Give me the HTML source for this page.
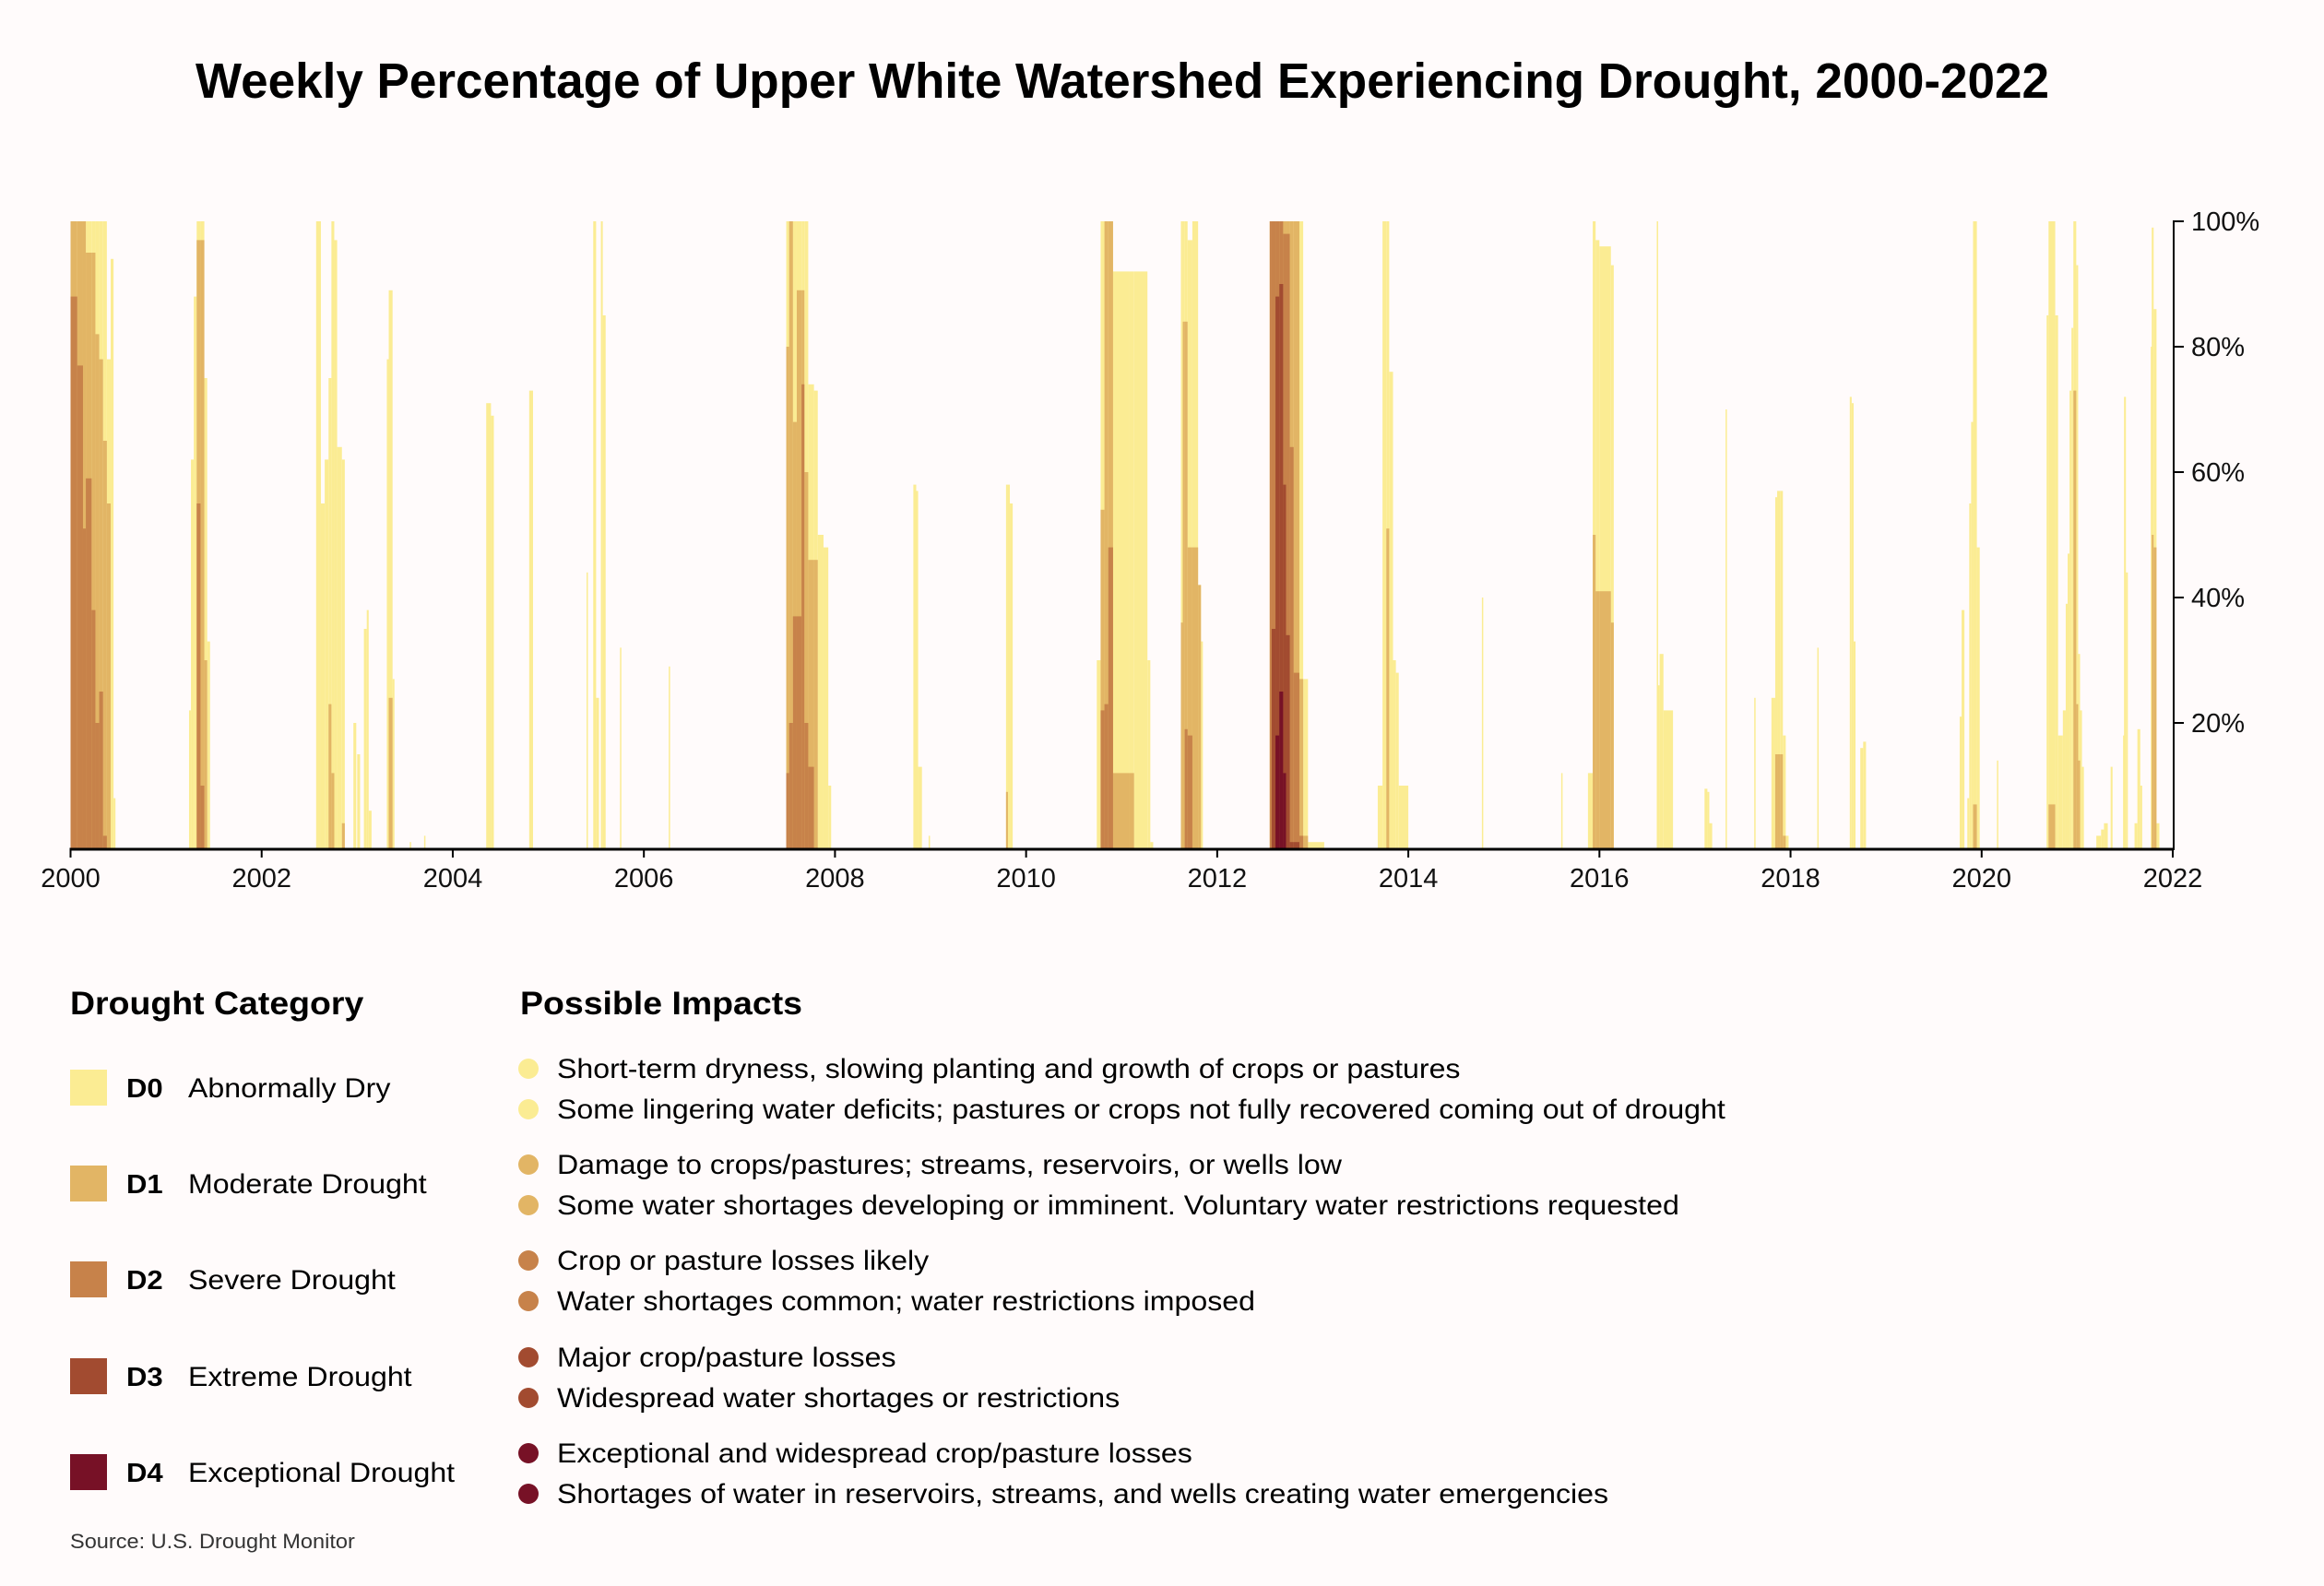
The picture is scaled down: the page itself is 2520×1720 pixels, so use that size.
<!DOCTYPE html>
<html><head><meta charset="utf-8">
<style>
html,body{margin:0;padding:0;background:#fffbfb;}
svg{display:block;font-family:"Liberation Sans",Arial,sans-serif;}
</style></head>
<body>
<svg id="chart" width="2520" height="1720" viewBox="0 0 2520 1720" xmlns="http://www.w3.org/2000/svg">
<rect width="2520" height="1720" fill="#fffbfb"/>
<text x="1217" y="106" text-anchor="middle" font-size="54" font-weight="bold" fill="#000" textLength="2010" lengthAdjust="spacingAndGlyphs">Weekly Percentage of Upper White Watershed Experiencing Drought, 2000-2022</text>
<g id="bars"></g>
<g id="axes"></g>

<text class="wide" x="76" y="1100" font-size="35" font-weight="bold">Drought Category</text>
<text class="wide" x="564" y="1100" font-size="35" font-weight="bold">Possible Impacts</text>
<g id="legend"></g>
<text class="wide" x="76" y="1679" font-size="22" fill="#333">Source: U.S. Drought Monitor</text>
</svg>
<script>
// ---- data: weekly drought episodes (start year, end year, cumulative % in D0+, D1+, D2+, D3+, D4)
const segStart = [2000.00,2000.07,2000.13,2000.16,2000.22,2000.26,2000.30,2000.34,2000.38,2000.42,2000.45,
 2001.24,2001.26,2001.29,2001.32,2001.36,2001.40,2001.43,
 2002.57,2002.62,2002.66,2002.70,2002.73,2002.76,2002.79,2002.84,2002.96,2003.00,2003.07,2003.10,2003.12,2003.31,2003.33,2003.37,2003.55,2003.70,
 2004.35,2004.40,2004.80,2005.40,2005.47,2005.50,2005.55,2005.57,2005.75,2006.26,
 2007.49,2007.52,2007.56,2007.60,2007.65,2007.68,2007.72,2007.78,2007.82,2007.88,2007.93,
 2008.82,2008.85,2008.87,2008.98,2009.79,2009.81,2009.83,
 2010.74,2010.78,2010.82,2010.86,2010.91,2011.08,2011.13,2011.27,2011.30,
 2011.62,2011.64,2011.66,2011.69,2011.74,2011.80,2011.83,
 2012.55,2012.57,2012.61,2012.65,2012.69,2012.72,2012.76,2012.80,2012.86,2012.90,2012.95,
 2013.68,2013.73,2013.77,2013.80,2013.84,2013.87,2013.90,2014.77,2015.60,2015.88,2015.93,2015.96,2016.00,2016.12,
 2016.60,2016.61,2016.63,2016.67,2017.10,2017.13,2017.15,2017.32,2017.62,2017.80,2017.84,2017.86,2017.89,2017.92,2017.95,2018.28,
 2018.62,2018.64,2018.66,2018.73,2018.76,2019.77,2019.79,2019.85,2019.87,2019.89,2019.91,2019.95,2020.16,
 2020.68,2020.70,2020.77,2020.80,2020.85,2020.88,2020.90,2020.92,2020.94,2020.96,2020.99,2021.01,2021.03,2021.05,
 2021.20,2021.25,2021.28,2021.35,2021.48,2021.49,2021.51,2021.60,2021.63,2021.66,2021.77,2021.78,2021.80,2021.83];
const segEnd = [2000.07,2000.13,2000.16,2000.22,2000.26,2000.30,2000.34,2000.38,2000.42,2000.45,2000.47,
 2001.26,2001.29,2001.32,2001.36,2001.40,2001.43,2001.46,
 2002.62,2002.66,2002.70,2002.73,2002.76,2002.79,2002.84,2002.87,2002.99,2003.03,2003.10,2003.12,2003.15,2003.33,2003.37,2003.39,2003.56,2003.71,
 2004.40,2004.43,2004.84,2005.41,2005.50,2005.53,2005.57,2005.60,2005.76,2006.27,
 2007.52,2007.56,2007.60,2007.65,2007.68,2007.72,2007.78,2007.82,2007.88,2007.93,2007.96,
 2008.85,2008.87,2008.91,2008.99,2009.81,2009.83,2009.86,
 2010.78,2010.82,2010.86,2010.91,2011.08,2011.13,2011.27,2011.30,2011.33,
 2011.64,2011.66,2011.69,2011.74,2011.80,2011.83,2011.85,
 2012.57,2012.61,2012.65,2012.69,2012.72,2012.76,2012.80,2012.86,2012.90,2012.95,2013.12,
 2013.73,2013.77,2013.80,2013.84,2013.87,2013.90,2014.00,2014.78,2015.61,2015.93,2015.96,2016.00,2016.12,2016.15,
 2016.61,2016.63,2016.67,2016.77,2017.13,2017.15,2017.18,2017.33,2017.63,2017.84,2017.86,2017.89,2017.92,2017.95,2017.98,2018.29,
 2018.64,2018.66,2018.68,2018.76,2018.79,2019.79,2019.82,2019.87,2019.89,2019.91,2019.95,2019.98,2020.17,
 2020.70,2020.77,2020.80,2020.85,2020.88,2020.90,2020.92,2020.94,2020.96,2020.99,2021.01,2021.03,2021.05,2021.07,
 2021.25,2021.28,2021.32,2021.37,2021.49,2021.51,2021.53,2021.63,2021.66,2021.68,2021.78,2021.80,2021.83,2021.86];
const d0 = [100,100,100,100,100,100,100,100,78,94,8,
 22,62,88,100,100,75,33,
 100,55,62,75,100,97,64,62,20,15,35,38,6,78,89,27,1,2,
 71,69,73,44,100,24,100,85,32,29,
 100,100,100,100,100,100,74,73,50,48,10,
 58,57,13,2,58,58,55,
 30,100,100,100,92,92,92,30,1,
 100,100,100,97,100,42,33,
 100,100,100,100,100,100,100,100,100,27,1,
 10,100,100,76,30,28,10,40,12,12,100,97,96,93,
 100,26,31,22,9.5,9,4,70,24,24,56,57,57,18,2,32,
 72,71,33,16,17,21,38,8,55,68,100,48,14,
 85,100,85,18,22,39,47,73,83,100,93,31,22,13,
 2,3,4,13,18,72,44,4,19,10,80,99,86,4];
const d1 = [100,100,100,95,95,82,78,65,55,0,0,
 0,0,0,97,97,30,0,
 0,0,0,23,12,0,0,4,0,0,0,0,0,0,24,0,0,0,
 0,0,0,0,0,0,0,0,0,0,
 80,100,68,89,89,60,46,46,0,0,0,
 0,0,0,0,9,0,0,
 0,54,100,100,12,12,0,0,0,
 36,84,84,48,48,42,0,
 100,100,100,100,100,100,100,100,27,2,0,
 0,0,51,0,0,0,0,0,0,0,50,41,41,36,
 0,0,0,0,0,0,0,0,0,0,15,15,15,2,0,0,
 0,0,0,0,0,0,0,0,0,0,7,0,0,
 0,7,0,0,0,0,0,0,0,73,23,14,0,0,
 0,0,0,0,0,0,0,0,0,0,0,50,48,0];
const d2 = [88,77,51,59,38,20,25,2,0,0,0,
 0,0,0,55,10,0,0,
 0,0,0,0,0,0,0,0,0,0,0,0,0,0,0,0,0,0,
 0,0,0,0,0,0,0,0,0,0,
 12,20,37,37,74,20,13,0,0,0,0,
 0,0,0,0,0,0,0,
 0,22,23,48,0,0,0,0,0,
 0,0,19,18,0,0,0,
 100,100,100,100,98,98,64,28,2,0,0,
 0,0,0,0,0,0,0,0,0,0,0,0,0,0,
 0,0,0,0,0,0,0,0,0,0,0,0,0,0,0,0,
 0,0,0,0,0,0,0,0,0,0,0,0,0,
 0,0,0,0,0,0,0,0,0,0,0,0,0,0,
 0,0,0,0,0,0,0,0,0,0,0,0,0,0];
const d3 = [0,0,0,0,0,0,0,0,0,0,0,
 0,0,0,0,0,0,0,
 0,0,0,0,0,0,0,0,0,0,0,0,0,0,0,0,0,0,
 0,0,0,0,0,0,0,0,0,0,
 0,0,0,0,0,0,0,0,0,0,0,
 0,0,0,0,0,0,0,
 0,0,0,0,0,0,0,0,0,
 0,0,0,0,0,0,0,
 0,35,88,90,58,34,1,1,0,0,0,
 0,0,0,0,0,0,0,0,0,0,0,0,0,0,
 0,0,0,0,0,0,0,0,0,0,0,0,0,0,0,0,
 0,0,0,0,0,0,0,0,0,0,0,0,0,
 0,0,0,0,0,0,0,0,0,0,0,0,0,0,
 0,0,0,0,0,0,0,0,0,0,0,0,0,0];
const d4 = [0,0,0,0,0,0,0,0,0,0,0,
 0,0,0,0,0,0,0,
 0,0,0,0,0,0,0,0,0,0,0,0,0,0,0,0,0,0,
 0,0,0,0,0,0,0,0,0,0,
 0,0,0,0,0,0,0,0,0,0,0,
 0,0,0,0,0,0,0,
 0,0,0,0,0,0,0,0,0,
 0,0,0,0,0,0,0,
 0,0,18,25,12,0,0,0,0,0,0,
 0,0,0,0,0,0,0,0,0,0,0,0,0,0,
 0,0,0,0,0,0,0,0,0,0,0,0,0,0,0,0,
 0,0,0,0,0,0,0,0,0,0,0,0,0,
 0,0,0,0,0,0,0,0,0,0,0,0,0,0,
 0,0,0,0,0,0,0,0,0,0,0,0,0,0];
const xTicks = [2000,2002,2004,2006,2008,2010,2012,2014,2016,2018,2020,2022];
const yTicks = [20,40,60,80,100];
const yTickLabels = ["20%","40%","60%","80%","100%"];
const catCodes = ["D0","D1","D2","D3","D4"];
const catNames = ["Abnormally Dry","Moderate Drought","Severe Drought","Extreme Drought","Exceptional Drought"];
const impacts = [
 ["Short-term dryness, slowing planting and growth of crops or pastures","Some lingering water deficits; pastures or crops not fully recovered coming out of drought"],
 ["Damage to crops/pastures; streams, reservoirs, or wells low","Some water shortages developing or imminent. Voluntary water restrictions requested"],
 ["Crop or pasture losses likely","Water shortages common; water restrictions imposed"],
 ["Major crop/pasture losses","Widespread water shortages or restrictions"],
 ["Exceptional and widespread crop/pasture losses","Shortages of water in reservoirs, streams, and wells creating water emergencies"]];

const colors = ["#fbec93","#e2b565","#c7824a","#a24b30","#771126"];
const NS = "http://www.w3.org/2000/svg";
const X0 = 76.5, X1 = 2356, Y0 = 920, Y1 = 240;
const xScale = y => X0 + (y - 2000) / 22 * (X1 - X0);
const yScale = v => Y0 - v / 100 * (Y0 - Y1);
function mk(tag, attrs, parent){ const e = document.createElementNS(NS, tag); for (const k in attrs) e.setAttribute(k, attrs[k]); parent.appendChild(e); return e; }

const bars = document.getElementById('bars');
const series = [d0,d1,d2,d3,d4];
series.forEach((arr, c) => {
  arr.forEach((v, i) => {
    if (v <= 0) return;
    const xa = xScale(segStart[i]), xb = xScale(segEnd[i]);
    const r = mk('rect', {x: xa, y: yScale(v), width: Math.max(1.5, xb - xa), height: Y0 - yScale(v), fill: colors[c]}, bars);
    
    
  });
});

const axes = document.getElementById('axes');
let l = mk('line', {x1: X0 - 1, x2: X1 + 1, y1: Y0 + 1, y2: Y0 + 1, stroke: '#000', 'stroke-width': 3}, axes);


l = mk('line', {x1: X1 + 1, x2: X1 + 1, y1: Y1, y2: Y0 + 2, stroke: '#000', 'stroke-width': 2}, axes);


xTicks.forEach(t => {
  const x = xScale(t);
  const tk = mk('line', {x1: x, x2: x, y1: Y0, y2: Y0 + 10, stroke: '#000', 'stroke-width': 2}, axes);
  
  
  const tx = mk('text', {x: x, y: 962, 'text-anchor': 'middle', 'font-size': 29, fill: '#111'}, axes);
  tx.textContent = String(t);
  
  
});
yTicks.forEach((t, i) => {
  const y = yScale(t);
  const tk = mk('line', {x1: X1, x2: X1 + 12, y1: y, y2: y, stroke: '#000', 'stroke-width': 2}, axes);
  
  
  const tx = mk('text', {x: X1 + 20, y: y + 10, 'font-size': 29, fill: '#111'}, axes);
  tx.textContent = yTickLabels[i];
  
  
});

const legend = document.getElementById('legend');
const rowY = [1180,1284,1388,1493,1597];
catCodes.forEach((code, i) => {
  const cy = rowY[i];
  const sw = mk('rect', {x: 76, y: cy - 20, width: 40, height: 39, fill: colors[i]}, legend);
  
  
  const c1 = mk('text', {x: 137, y: cy + 10, 'font-size': 29, 'font-weight': 'bold', class: 'wide'}, legend);
  c1.textContent = code;
  
  
  const c2 = mk('text', {x: 204, y: cy + 10, 'font-size': 30, class: 'wide'}, legend);
  c2.textContent = catNames[i];
  
  
  const iy = [cy - 21, cy + 23];
  impacts[i].forEach((txt, j) => {
    const d = mk('circle', {cx: 573, cy: iy[j], r: 11, fill: colors[i]}, legend);
    
    
    const t = mk('text', {x: 604, y: iy[j] + 10, 'font-size': 30, class: 'wide'}, legend);
    t.textContent = txt;
    
    
  });
});
document.querySelectorAll('text.wide').forEach(t => {
  const w = t.getComputedTextLength();
  t.setAttribute('textLength', (w * 1.07).toFixed(1));
  t.setAttribute('lengthAdjust', 'spacingAndGlyphs');
});
</script>
</body></html>
